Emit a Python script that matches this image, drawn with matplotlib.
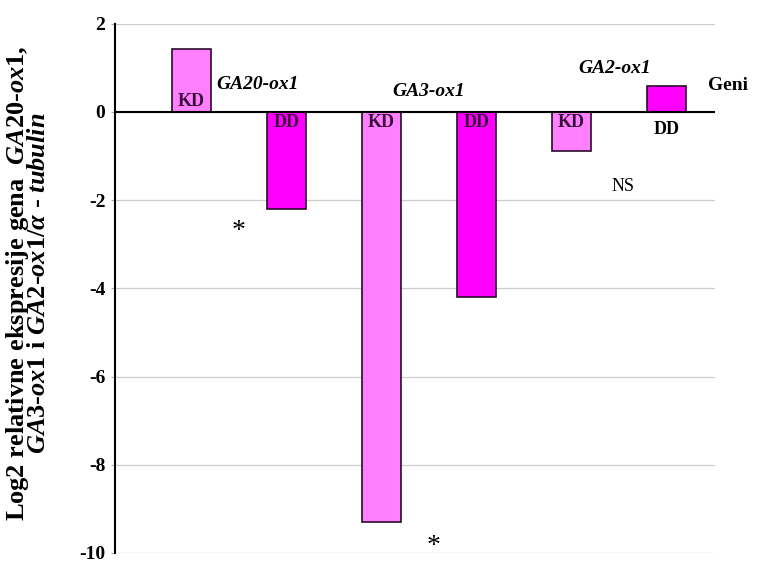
import matplotlib.pyplot as plt

# data
genes = ['GA20-ox1', 'GA3-ox1', 'GA2-ox1']
groups = ['KD', 'DD', 'KD', 'DD', 'KD', 'DD']
values = [1.43, -2.2, -9.3, -4.2, -0.88, 0.58]
colors = ['#FF80FF', '#FF00FF', '#FF80FF', '#FF00FF', '#FF80FF', '#FF00FF']
yticks = [2, 0, -2, -4, -6, -8, -10]

plt.rcParams['font.family'] = 'Liberation Serif'
plt.rcParams['mathtext.fontset'] = 'custom'
plt.rcParams['mathtext.rm'] = 'Liberation Serif:bold'
plt.rcParams['mathtext.it'] = 'Liberation Serif:bold:italic'

fig = plt.figure(figsize=(7.62, 5.63), dpi=100)
ax = fig.add_axes([0.151, 0.0178, 0.787, 0.940])

x = list(range(len(values)))
ax.bar(x, values, width=0.41, color=colors, edgecolor='#2a0a2a', linewidth=1.2, zorder=3)

ax.set_xlim(-0.805, 5.51)
ax.set_ylim(-10, 2)
ax.set_yticks(yticks)
ax.set_yticklabels([str(t) for t in yticks], fontsize=14, fontweight='bold')
ax.set_xticks([])
ax.yaxis.grid(True, color='#cccccc', linewidth=0.9)
ax.set_axisbelow(True)
ax.tick_params(axis='y', length=3, width=0.8, color='#aaaaaa', pad=4)
for s in ['top', 'right', 'bottom']:
    ax.spines[s].set_visible(False)
ax.spines['left'].set_linewidth(1.5)
ax.axhline(0, color='black', linewidth=1.5, zorder=4)

# group labels on the bars
lab = dict(fontsize=13, fontweight='bold', ha='center', zorder=5)
ax.text(0, 0.05, 'KD', va='bottom', color='#3a0a3a', **lab)
for i in [1, 2, 3, 4]:
    ax.text(i, -0.05, groups[i], va='top', color='#3a0a3a', **lab)
ax.text(5, -0.2, 'DD', va='top', color='black', **lab)

# gene names
gk = dict(fontsize=14, fontweight='bold', fontstyle='italic', ha='center', va='center')
ax.text(0.70, 0.62, genes[0], **gk)
ax.text(2.5, 0.47, genes[1], **gk)
ax.text(4.46, 0.98, genes[2], **gk)
ax.text(5.65, 0.59, 'Geni', fontsize=14, fontweight='bold', ha='center', va='center',
        clip_on=False)

ax.text(0.5, -2.7, '*', fontsize=20, ha='center', va='center')
ax.text(2.55, -9.85, '*', fontsize=20, ha='center', va='center')
ax.text(4.54, -1.7, 'NS', fontsize=13, ha='center', va='center')

ax.set_ylabel('$\\mathrm{Log2\\ relativne\\ ekspresije\\ gena\\ \\ }'
              '\\mathit{GA20}\\text{-}\\mathit{ox1},$\n'
              '$\\mathit{GA3}\\text{-}\\mathit{ox1}\\mathrm{\\ i\\ }'
              '\\mathit{GA2}\\text{-}\\mathit{ox1/\\alpha}\\mathrm{\\ }\\text{-}\\mathrm{\\ }'
              '\\mathit{tubulin}$',
              fontsize=19, linespacing=0.85)
ax.yaxis.set_label_coords(-0.108, 0.51)

fig.savefig('out.png', dpi=100)
